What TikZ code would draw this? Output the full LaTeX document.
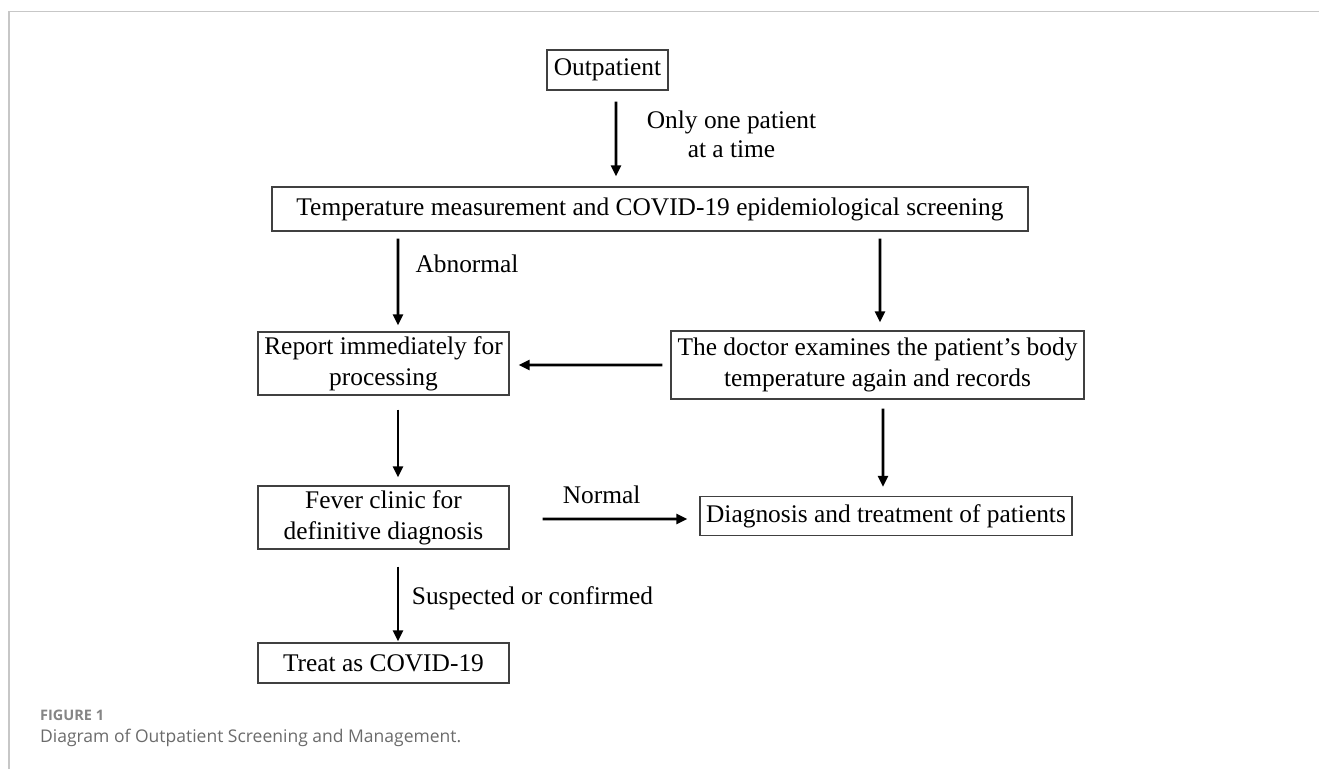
\documentclass[tikz,border=0pt]{standalone}
\usepackage{fontspec}
\setmainfont{Liberation Serif}
\newfontfamily\capfont{Open Sans}
\usetikzlibrary{arrows.meta,calc}
\begin{document}
\begin{tikzpicture}[x=1bp,y=-1bp,
  box/.style={draw=black!75, line width=1.3bp, inner sep=0pt, align=center,
    font=\fontsize{25.4bp}{31bp}\selectfont},
  arr/.style={line width=2.6bp, -{Triangle[length=11bp,width=10bp]}},
  lbl/.style={font=\fontsize{25.4bp}{29bp}\selectfont, align=center, inner sep=0pt},
  captext/.style={anchor=west, inner sep=0pt}]
\useasboundingbox (0,0) rectangle (1319,769);
\draw[black!22, line width=1.2bp] (9,769) -- (9,11.7) -- (1319,11.7);

\node[box, minimum width=121bp, minimum height=40bp] (out) at (607.5,70) {Outpatient};
\node[box, minimum width=756bp, minimum height=44bp] (temp) at (650,209) {Temperature measurement and COVID-19 epidemiological screening};
\node[box, minimum width=251bp, minimum height=63bp] (rep) at (383.5,363.5) {Report immediately for\\processing};
\node[box, minimum width=413bp, minimum height=68bp] (doc) at (877.5,365) {The doctor examines the patient’s body\\temperature again and records};
\node[box, minimum width=251bp, minimum height=63bp] (fev) at (383.5,517.5) {Fever clinic for\\definitive diagnosis};
\node[box, minimum width=372bp, minimum height=39bp] (dia) at (886,516) {Diagnosis and treatment of patients};
\node[box, minimum width=251bp, minimum height=40bp] (trt) at (383.5,663) {Treat as COVID-19};

\draw[arr] ($(out.south)+(8.5,11)$) -- ($(temp.north)+(-34,-10)$);
\draw[arr] ($(temp.south)+(-252,7)$) -- ($(rep.north)+(14.5,-6)$);
\draw[arr] ($(temp.south)+(230,7)$) -- ($(doc.north)+(2.5,-8)$);
\draw[arr] ($(doc.west)+(-8,0)$) -- ($(rep.east)+(9,1.5)$);
\draw[arr] ($(rep.south)+(14.5,14)$) -- ($(fev.north)+(14.5,-8)$);
\draw[arr] ($(fev.east)+(33,1.5)$) -- ($(dia.west)+(-12,3)$);
\draw[arr] ($(doc.south)+(5.5,9)$) -- ($(dia.north)+(-3,-9)$);
\draw[arr] ($(fev.south)+(14.5,17)$) -- ($(trt.north)+(14.5,-1)$);

\node[lbl] (l1) at ($(out.south)+(124,44)$) {Only one patient\\at a time};
\node[lbl] (l2) at ($(temp.south)+(-183,32)$) {Abnormal};
\node[lbl] (l3) at ($(fev.east)+(92,-22.5)$) {Normal};
\node[lbl] (l4) at ($(fev.south)+(149,49)$) {Suspected or confirmed};

\node[captext, text=black!48, font=\capfont\bfseries\fontsize{14.5bp}{16bp}\selectfont] (c1) at (40,715) {FIGURE 1};
\node[captext, text=black!58, font=\capfont\fontsize{17.5bp}{20bp}\selectfont] (c2) at (40,738) {Diagram of Outpatient Screening and Management.};
\end{tikzpicture}
\end{document}
